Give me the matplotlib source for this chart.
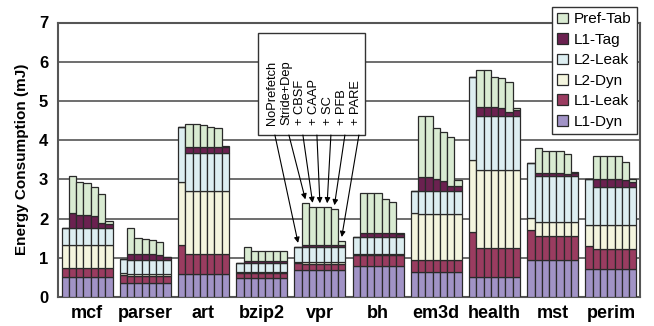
import numpy as np
import matplotlib.pyplot as plt
from matplotlib.patches import Rectangle

plt.rcParams['font.family'] = ['Liberation Sans', 'DejaVu Sans']

benchmarks = ['mcf', 'parser', 'art', 'bzip2', 'vpr', 'bh', 'em3d', 'health', 'mst', 'perim']
configs = ['NoPrefetch', 'Stride+Dep', '+ CBSF', '+ CAAP', '+ SC', '+ PFB', '+ PARE']
components = ['L1-Dyn', 'L1-Leak', 'L2-Dyn', 'L2-Leak', 'L1-Tag', 'Pref-Tab']

# energy (mJ) per benchmark, per config (7 bars each)
l1_dyn = [
    [0.52] * 7,
    [0.35] * 7,
    [0.59] * 7,
    [0.48] * 7,
    [0.69] * 7,
    [0.80] * 7,
    [0.65] * 7,
    [0.50] * 7,
    [0.94] * 7,
    [0.71] * 7,
]
l1_leak = [
    [0.21] * 7,
    [0.21, 0.19, 0.19, 0.19, 0.19, 0.19, 0.19],
    [0.74, 0.51, 0.51, 0.51, 0.51, 0.51, 0.51],
    [0.12] * 7,
    [0.17, 0.16, 0.16, 0.16, 0.16, 0.16, 0.16],
    [0.27] * 7,
    [0.29] * 7,
    [1.15, 0.74, 0.74, 0.74, 0.74, 0.74, 0.74],
    [0.77, 0.62, 0.62, 0.62, 0.62, 0.62, 0.62],
    [0.59, 0.51, 0.51, 0.51, 0.51, 0.51, 0.51],
]
l2_dyn = [
    [0.60] * 7,
    [0.04, 0.05, 0.05, 0.05, 0.05, 0.05, 0.05],
    [1.59, 1.61, 1.61, 1.61, 1.61, 1.61, 1.61],
    [0.04] * 7,
    [0.04, 0.05, 0.05, 0.05, 0.05, 0.05, 0.05],
    [0.03] * 7,
    [1.19, 1.18, 1.18, 1.18, 1.18, 1.18, 1.18],
    [1.84, 2.00, 2.00, 2.00, 2.00, 2.00, 2.00],
    [0.30, 0.36, 0.36, 0.36, 0.36, 0.36, 0.36],
    [0.54, 0.62, 0.62, 0.62, 0.62, 0.62, 0.62],
]
l2_leak = [
    [0.42] * 7,
    [0.37, 0.36, 0.36, 0.36, 0.36, 0.36, 0.36],
    [1.41, 0.96, 0.96, 0.96, 0.96, 0.96, 0.96],
    [0.22] * 7,
    [0.38] * 7,
    [0.42] * 7,
    [0.58, 0.59, 0.59, 0.59, 0.59, 0.59, 0.59],
    [2.11, 1.38, 1.38, 1.38, 1.38, 1.38, 1.38],
    [1.40, 1.17, 1.17, 1.17, 1.17, 1.17, 1.17],
    [1.16, 0.96, 0.96, 0.96, 0.96, 0.96, 0.96],
]
l1_tag = [
    [0, 0.38, 0.33, 0.33, 0.31, 0.14, 0.12],
    [0, 0.15, 0.15, 0.15, 0.14, 0.12, 0.07],
    [0, 0.16, 0.16, 0.16, 0.16, 0.16, 0.16],
    [0, 0.05, 0.05, 0.05, 0.05, 0.05, 0.05],
    [0, 0.05, 0.05, 0.05, 0.05, 0.05, 0.05],
    [0, 0.10, 0.10, 0.10, 0.10, 0.10, 0.08],
    [0, 0.34, 0.34, 0.29, 0.25, 0.13, 0.13],
    [0, 0.23, 0.23, 0.23, 0.19, 0.11, 0.15],
    [0, 0.08, 0.08, 0.08, 0.08, 0.05, 0.06],
    [0, 0.20, 0.20, 0.20, 0.20, 0.18, 0.14],
]
pref_tab = [
    [0, 0.96, 0.85, 0.82, 0.74, 0.73, 0.06],
    [0, 0.65, 0.40, 0.38, 0.36, 0.33, 0.01],
    [0, 0.58, 0.59, 0.56, 0.50, 0.48, 0.02],
    [0, 0.36, 0.27, 0.27, 0.26, 0.26, 0.26],
    [0, 1.06, 0.97, 0.96, 0.96, 0.91, 0.10],
    [0, 1.03, 1.04, 1.03, 0.87, 0.81, 0.03],
    [0, 1.57, 1.57, 1.32, 1.24, 1.23, 0.14],
    [0, 0.94, 0.93, 0.77, 0.78, 0.75, 0.04],
    [0, 0.62, 0.56, 0.55, 0.55, 0.51, 0.05],
    [0, 0.60, 0.60, 0.60, 0.59, 0.47, 0.06],
]

colors = ['#A193C6', '#9A3C60', '#F4F5DE', '#DDEEF1', '#6B2150', '#D9EBD2']
yticks = [0, 1, 2, 3, 4, 5, 6, 7]

fig = plt.figure(figsize=(6.54, 3.26), dpi=100)
ax = fig.add_axes([58 / 654, 29 / 326, 582 / 654, 274.5 / 326])

series = [np.array(s) for s in (l1_dyn, l1_leak, l2_dyn, l2_leak, l1_tag, pref_tab)]
n_b = len(benchmarks)
n_c = len(configs)
w = 0.125
gx = np.arange(n_b)

bottom = np.zeros((n_b, n_c))
handles = []
for vals, col, name in zip(series, colors, components):
    for k in range(n_c):
        b = ax.bar(gx + (k - 3) * w, vals[:, k], w, bottom=bottom[:, k],
                   color=col, edgecolor='#2a2a2a', linewidth=0.9, zorder=3)
    handles.append(b)
    bottom += vals

ax.set_xlim(-0.5, n_b - 0.5)
ax.set_ylim(0, 7)
ax.set_yticks(yticks)
ax.set_yticklabels([str(t) for t in yticks], fontsize=12, fontweight='bold')
ax.set_xticks(gx)
ax.set_xticklabels(benchmarks, fontsize=13, fontweight='bold')
ax.tick_params(length=0, pad=7)
ax.tick_params(axis='x', pad=6)
ax.set_ylabel('Energy Consumption (mJ)', fontsize=11, fontweight='bold', labelpad=7)
ax.yaxis.grid(True, color='#555555', linewidth=1.2, zorder=0)
ax.set_axisbelow(True)
for s in ax.spines.values():
    s.set_color('#555555')
    s.set_linewidth(1.5)

leg = ax.legend(handles[::-1], components[::-1], loc='upper right',
                bbox_to_anchor=(0.995, 1.056), fontsize=11, fancybox=False,
                edgecolor='#333333', framealpha=1, handlelength=0.7,
                handleheight=0.7, handletextpad=0.4, labelspacing=0.42,
                borderpad=0.35, borderaxespad=0)
leg.get_frame().set_linewidth(1.0)
leg.set_zorder(10)

# config key box pointing at the vpr bars
ax.add_patch(Rectangle((2.936, 4.13), 1.84, 2.60, facecolor='white',
                       edgecolor='#333333', linewidth=1.0, zorder=6))
vpr = benchmarks.index('vpr')
tops = bottom[vpr]
for k, name in enumerate(configs):
    tx = 3.177 + 0.2405 * k
    ax.text(tx, 4.39, name, rotation=90, ha='center', va='bottom',
            fontsize=9.3, zorder=7)
    ax.annotate('', xy=(vpr + (k - 3) * w, tops[k] + 0.1), xytext=(tx + 0.05, 4.13),
                arrowprops=dict(arrowstyle='-|>', color='black', lw=0.8,
                                mutation_scale=8, shrinkA=0, shrinkB=0),
                zorder=7)

fig.savefig('out.png', dpi=100)
